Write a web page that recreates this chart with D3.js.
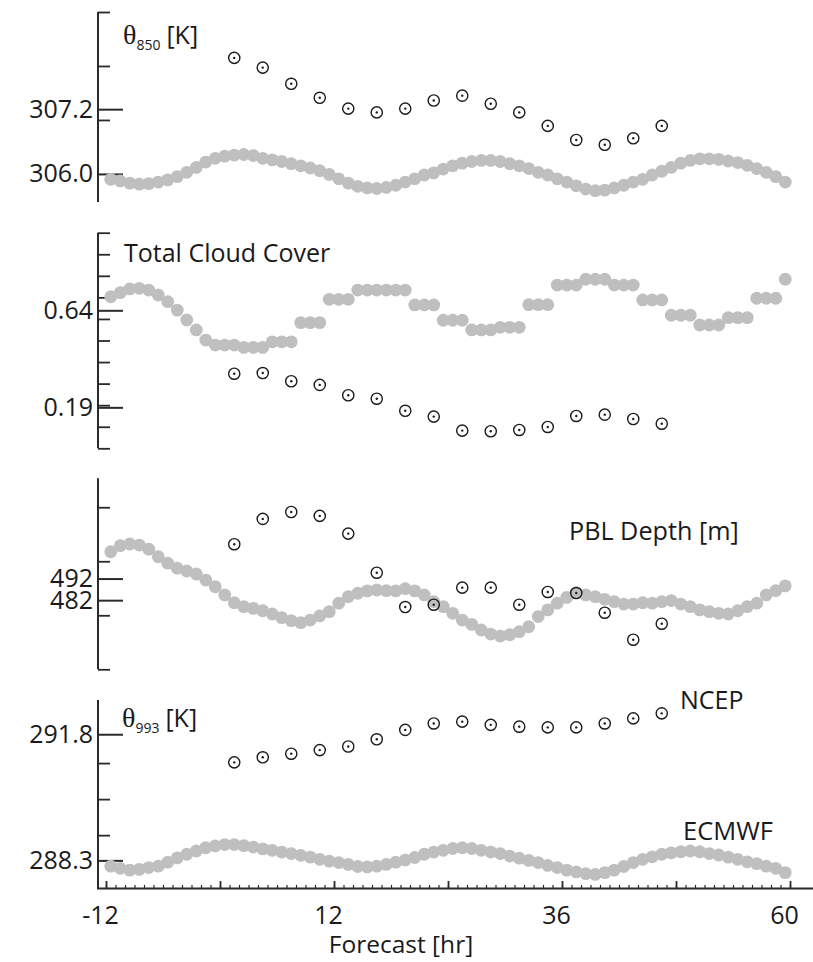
<!DOCTYPE html>
<html>
<head>
<meta charset="utf-8">
<script src="https://cdn.jsdelivr.net/npm/d3@7"></script>
<style>
  html, body { margin: 0; padding: 0; background: #fff; }
  svg { display: block; }
  text { font-family: 'Open Sans', sans-serif; fill: #1a1a1a; }
</style>
</head>
<body>
<svg id="chart" width="813" height="962"></svg>
<script>
// ---------------- DATA ----------------
// ECMWF forecast hours (hourly output)
const ecmwfHours = d3.range(-11.5, 60, 1);
// NCEP forecast hours (3-hourly)
const ncepHours = [1.5, 4.5, 7.5, 10.5, 13.5, 16.5, 19.5, 22.5, 25.5, 28.5, 31.5, 34.5, 37.5, 40.5, 43.5, 46.5];

// theta 850 [K]
const theta850Ecmwf = [305.90, 305.87, 305.83, 305.81, 305.82, 305.85, 305.89, 305.95, 306.03, 306.12, 306.22, 306.29,
  306.33, 306.35, 306.36, 306.34, 306.29, 306.26, 306.23, 306.19, 306.15, 306.11, 306.06, 305.99,
  305.91, 305.83, 305.77, 305.74, 305.73, 305.75, 305.79, 305.85, 305.91, 305.98, 306.02, 306.09,
  306.15, 306.20, 306.23, 306.25, 306.25, 306.23, 306.19, 306.15, 306.10, 306.03, 305.98, 305.91,
  305.85, 305.78, 305.72, 305.69, 305.70, 305.74, 305.79, 305.85, 305.90, 305.98, 306.05, 306.12,
  306.20, 306.25, 306.28, 306.28, 306.27, 306.24, 306.21, 306.16, 306.10, 306.03, 305.95, 305.85];
const theta850Ncep = [308.15, 307.97, 307.67, 307.41, 307.21, 307.14, 307.21, 307.36, 307.45, 307.30, 307.14, 306.89, 306.63, 306.54, 306.66, 306.89];

// total cloud cover [fraction]
const cloudEcmwf = [0.703, 0.722, 0.739, 0.742, 0.734, 0.711, 0.680, 0.641, 0.595, 0.549, 0.502,
  0.479, 0.479, 0.479, 0.468, 0.468, 0.468, 0.494, 0.494, 0.494, 0.583, 0.583, 0.583,
  0.691, 0.691, 0.691, 0.734, 0.734, 0.734, 0.734, 0.734, 0.734, 0.665, 0.665, 0.665,
  0.594, 0.594, 0.594, 0.549, 0.549, 0.549, 0.561, 0.561, 0.561, 0.666, 0.666, 0.666,
  0.757, 0.757, 0.757, 0.784, 0.784, 0.784, 0.757, 0.757, 0.757, 0.688, 0.688, 0.688,
  0.617, 0.617, 0.617, 0.572, 0.572, 0.572, 0.606, 0.606, 0.606, 0.696, 0.696, 0.696, 0.784];
const cloudNcep = [0.346, 0.349, 0.311, 0.294, 0.246, 0.230, 0.174, 0.147, 0.082, 0.079, 0.085, 0.099, 0.150, 0.156, 0.136, 0.114];

// PBL depth [m]
const pblEcmwf = [504.4, 507.2, 508.0, 507.5, 505.6, 502.1, 499.1, 496.8, 495.5, 494.1, 491.3, 488.2,
  484.4, 480.8, 479.0, 478.2, 477.1, 475.6, 473.9, 472.5, 471.6, 472.8, 474.7, 476.7,
  480.6, 483.6, 485.2, 486.3, 486.7, 486.4, 486.3, 487.3, 486.3, 484.4, 481.3, 479.0,
  475.9, 472.8, 470.8, 468.2, 466.3, 465.4, 466.0, 467.4, 469.7, 474.4, 477.5, 480.6,
  483.3, 485.5, 484.4, 483.6, 482.4, 481.3, 480.2, 480.2, 480.8, 480.6, 481.3, 481.8,
  480.2, 479.0, 477.5, 476.7, 475.9, 475.6, 477.1, 479.0, 480.6, 484.4, 486.4, 488.6];
const pblNcep = [507.9, 519.6, 522.8, 521.0, 512.8, 494.7, 478.8, 479.9, 487.8, 487.8, 479.9, 485.8, 485.3, 476.2, 463.7, 471.1];

// theta 993 [K]
const theta993Ecmwf = [288.14, 288.08, 288.03, 288.05, 288.10, 288.14, 288.25, 288.37, 288.47, 288.56, 288.65, 288.70,
  288.74, 288.74, 288.71, 288.67, 288.62, 288.58, 288.53, 288.49, 288.44, 288.39, 288.33, 288.28,
  288.24, 288.19, 288.13, 288.12, 288.14, 288.19, 288.25, 288.31, 288.38, 288.47, 288.53, 288.58,
  288.63, 288.65, 288.63, 288.58, 288.53, 288.49, 288.42, 288.36, 288.30, 288.24, 288.16, 288.10,
  288.03, 287.98, 287.93, 287.91, 287.96, 288.03, 288.13, 288.24, 288.33, 288.40, 288.47, 288.51,
  288.54, 288.56, 288.54, 288.49, 288.45, 288.39, 288.33, 288.26, 288.21, 288.14, 288.08, 287.96];
const theta993Ncep = [291.02, 291.16, 291.26, 291.36, 291.46, 291.66, 291.92, 292.10, 292.15, 292.06, 292.01, 291.99, 291.99, 292.10, 292.24, 292.38];

// tick values
const xMajorTicks = [-12, 0, 12, 24, 36, 48, 60];
const xLabelTicks = [-12, 12, 36, 60];
const xMinorTicks = d3.range(-12, 61, 1);

const panels = [
  { ecmwf: theta850Ecmwf, ncep: theta850Ncep, domain: [305.48, 309.0], range: [202, 12],
    major: [306.0, 307.2], fmt: d3.format(".1f"), minor: [307, 308, 309] },
  { ecmwf: cloudEcmwf, ncep: cloudNcep, domain: [0, 1], range: [448.3, 232.7],
    major: [0.19, 0.64], fmt: d3.format(".2f"), minor: [0, 0.1, 0.2, 0.3, 0.4, 0.5, 0.6, 0.7, 0.8, 0.9, 1.0] },
  { ecmwf: pblEcmwf, ncep: pblNcep, domain: [450, 538.4], range: [669.3, 478.3],
    major: [482, 492], fmt: d3.format("d"), minor: [450, 475, 500, 525] },
  { ecmwf: theta993Ecmwf, ncep: theta993Ncep, domain: [287.52, 292.75], range: [888.5, 700],
    major: [288.3, 291.8], fmt: d3.format(".1f"), minor: [289, 290, 291] }
];

// ---------------- DRAW ----------------
const svg = d3.select("#chart");
const spineX = 98;
const axisColor = "#2a2a2a";
const x = d3.scaleLinear().domain([-12, 60]).range([106, 790]);

panels.forEach(p => {
  const y = d3.scaleLinear().domain(p.domain).range(p.range);
  const g = svg.append("g");

  // spine
  g.append("line")
    .attr("x1", spineX).attr("x2", spineX)
    .attr("y1", y(p.domain[0])).attr("y2", y(p.domain[1]))
    .attr("stroke", axisColor).attr("stroke-width", 2);

  // minor ticks
  const minorAx = d3.axisRight(y).tickValues(p.minor).tickSize(12).tickFormat("");
  const gm = g.append("g").attr("transform", `translate(${spineX},0)`).call(minorAx);
  gm.select(".domain").remove();
  gm.selectAll(".tick line").attr("stroke", axisColor).attr("stroke-width", 1.8);

  // major ticks with labels
  const majorAx = d3.axisLeft(y).tickValues(p.major).tickSizeInner(-25).tickSizeOuter(0).tickPadding(5).tickFormat(p.fmt);
  const gM = g.append("g").attr("transform", `translate(${spineX},0)`).call(majorAx);
  gM.select(".domain").remove();
  gM.selectAll(".tick line").attr("stroke", axisColor).attr("stroke-width", 2);
  gM.selectAll(".tick text").attr("font-size", 25).attr("font-family", "'Open Sans', sans-serif").attr("fill", "#1a1a1a");

  // ECMWF grey dots
  g.append("g").selectAll("circle")
    .data(p.ecmwf)
    .join("circle")
    .attr("cx", (d, i) => x(ecmwfHours[i]))
    .attr("cy", d => y(d))
    .attr("r", 6.4)
    .attr("fill", "#bfbfbf");

  // NCEP circled dots
  const gn = g.append("g");
  gn.selectAll("circle.o")
    .data(p.ncep)
    .join("circle").attr("class", "o")
    .attr("cx", (d, i) => x(ncepHours[i]))
    .attr("cy", d => y(d))
    .attr("r", 5.6)
    .attr("fill", "none")
    .attr("stroke", "#1a1a1a")
    .attr("stroke-width", 1.4);
  gn.selectAll("circle.c")
    .data(p.ncep)
    .join("circle").attr("class", "c")
    .attr("cx", (d, i) => x(ncepHours[i]))
    .attr("cy", d => y(d))
    .attr("r", 1.2)
    .attr("fill", "#1a1a1a");
});

// x axis
const xAxisY = 888.5;
svg.append("line")
  .attr("x1", spineX - 1).attr("x2", 813)
  .attr("y1", xAxisY).attr("y2", xAxisY)
  .attr("stroke", axisColor).attr("stroke-width", 2);

const gxMinor = svg.append("g").attr("transform", `translate(0,${xAxisY})`)
  .call(d3.axisBottom(x).tickValues(xMinorTicks).tickSizeInner(-3.5).tickSizeOuter(0).tickFormat(""));
gxMinor.select(".domain").remove();
gxMinor.selectAll(".tick line").attr("stroke", axisColor).attr("stroke-width", 1.2);

const gxMajor = svg.append("g").attr("transform", `translate(0,${xAxisY})`)
  .call(d3.axisBottom(x).tickValues(xMajorTicks).tickSizeInner(-7.5).tickSizeOuter(0).tickPadding(18)
    .tickFormat(d => xLabelTicks.includes(d) ? d3.format("d")(d) : ""));
gxMajor.select(".domain").remove();
gxMajor.selectAll(".tick line").attr("stroke", axisColor).attr("stroke-width", 1.8);
gxMajor.selectAll(".tick text").attr("font-size", 25).attr("dx", -6)
  .attr("font-family", "'Open Sans', sans-serif").attr("fill", "#1a1a1a")
  .text(d => xLabelTicks.includes(d) ? (d < 0 ? "-" + Math.abs(d) : String(d)) : "");

svg.append("text")
  .attr("x", 401).attr("y", 953)
  .attr("text-anchor", "middle")
  .attr("font-size", 24.5)
  .text("Forecast [hr]");

// panel titles
function thetaLabel(xPos, yPos, sub) {
  const t = svg.append("text").attr("x", xPos).attr("y", yPos).attr("font-size", 25);
  t.append("tspan").attr("font-family", "'Liberation Serif', serif").attr("font-size", 28).text("θ");
  t.append("tspan").attr("font-size", 14).attr("dy", 6).text(sub);
  t.append("tspan").attr("dy", -6).attr("dx", 6).text("[K]");
}
thetaLabel(123, 44, "850");
thetaLabel(122, 727, "993");

svg.append("text").attr("x", 124).attr("y", 262).attr("font-size", 25).text("Total Cloud Cover");
svg.append("text").attr("x", 569).attr("y", 540).attr("font-size", 25.2).text("PBL Depth [m]");
svg.append("text").attr("x", 680).attr("y", 709).attr("font-size", 25).text("NCEP");
svg.append("text").attr("x", 683).attr("y", 840).attr("font-size", 25.5).text("ECMWF");
</script>
</body>
</html>
